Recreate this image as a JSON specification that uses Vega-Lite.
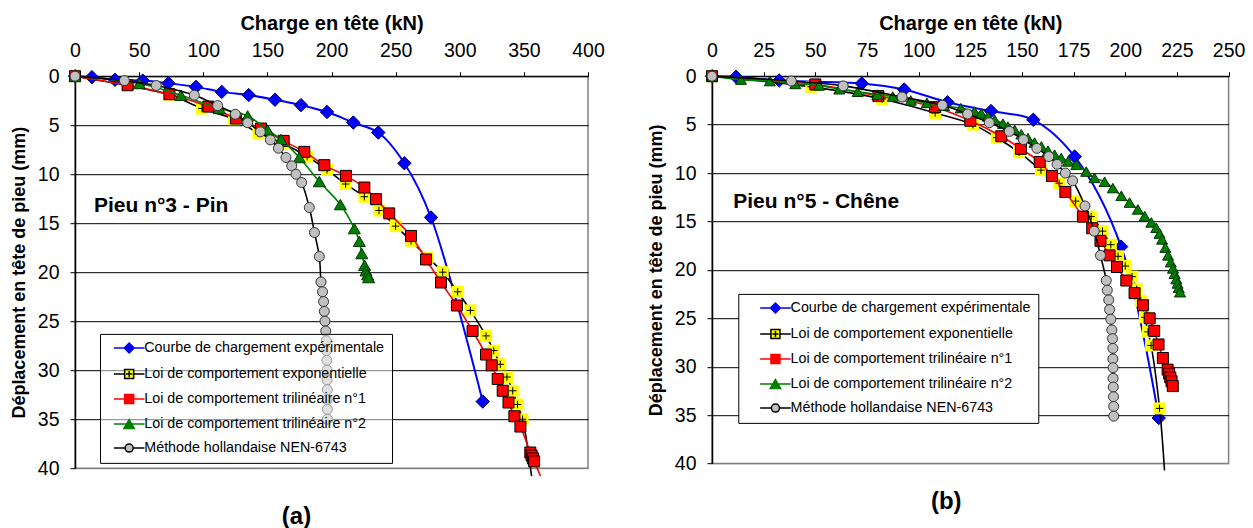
{
  "$schema": "https://vega.github.io/schema/vega-lite/v6.json",
  "padding": {"left": 9, "top": 12.2, "right": 5, "bottom": 0},
  "columns": 2,
  "align": "none",
  "spacing": 40,
  "resolve": {
    "scale": {"x": "independent", "y": "independent", "stroke": "independent", "fill": "independent", "shape": "independent"},
    "legend": {"stroke": "independent", "fill": "independent", "shape": "independent"}
  },
  "config": {
    "font": "Liberation Sans",
    "view": {"stroke": "#808080", "strokeWidth": 1.5},
    "axis": {"labelColor": "#000", "titleColor": "#000", "domainColor": "#000", "tickColor": "#000", "labelFontSize": 19.5, "titleFontSize": 18, "titleFontWeight": "bold", "labelFont": "Liberation Sans", "titleFont": "Liberation Sans", "labelFlush": false, "labelOverlap": false},
    "title": {"font": "Liberation Sans", "color": "#000"},
    "legend": {"labelFont": "Liberation Sans"}
  },
  "datasets": {
    "a": [
      {"s":"C","kN":0,"mm":0},{"s":"C","kN":13.2,"mm":0.1},{"s":"C","kN":31.2,"mm":0.37},{"s":"C","kN":52.8,"mm":0.45},{"s":"C","kN":72.8,"mm":0.72},{"s":"C","kN":94.3,"mm":1.09},{"s":"C","kN":114.4,"mm":1.6},{"s":"C","kN":135.4,"mm":1.92},{"s":"C","kN":155.9,"mm":2.4},{"s":"C","kN":176.2,"mm":2.95},{"s":"C","kN":196.5,"mm":3.65},{"s":"C","kN":217,"mm":4.73},{"s":"C","kN":236.5,"mm":5.75},{"s":"C","kN":256.8,"mm":8.88},{"s":"C","kN":277.6,"mm":14.42},{"s":"C","kN":317.9,"mm":33.2},
      {"s":"E","kN":0,"mm":0},{"s":"E","kN":41,"mm":0.95},{"s":"E","kN":73.8,"mm":1.9},{"s":"E","kN":99,"mm":3.3},{"s":"E","kN":124,"mm":4.39},{"s":"E","kN":143,"mm":5.8},{"s":"E","kN":162,"mm":6.84},{"s":"E","kN":181,"mm":8.2},{"s":"E","kN":196.5,"mm":9.56},{"s":"E","kN":211,"mm":11},{"s":"E","kN":225.6,"mm":12.3},{"s":"E","kN":237,"mm":13.7},{"s":"E","kN":250,"mm":15.3},{"s":"E","kN":262,"mm":16.8},{"s":"E","kN":275,"mm":18.5},{"s":"E","kN":286.7,"mm":20},{"s":"E","kN":298.4,"mm":22},{"s":"E","kN":308.3,"mm":23.9},{"s":"E","kN":320.5,"mm":26.5},{"s":"E","kN":326.5,"mm":28},{"s":"E","kN":331.6,"mm":29.4},{"s":"E","kN":336.8,"mm":30.7},{"s":"E","kN":341.3,"mm":32.1},{"s":"E","kN":345,"mm":33.5},{"s":"E","kN":349,"mm":35},{"s":"Ex","kN":356,"mm":40.8},
      {"s":"T1","kN":0,"mm":0},{"s":"T1","kN":41,"mm":0.92},{"s":"T1","kN":73.6,"mm":1.84},{"s":"T1","kN":104,"mm":3.1},{"s":"T1","kN":125.5,"mm":4.32},{"s":"T1","kN":145,"mm":5.34},{"s":"T1","kN":162.7,"mm":6.6},{"s":"T1","kN":178.8,"mm":7.72},{"s":"T1","kN":194.4,"mm":9.08},{"s":"T1","kN":211.3,"mm":10.17},{"s":"T1","kN":225.6,"mm":11.36},{"s":"T1","kN":234.7,"mm":12.55},{"s":"T1","kN":245,"mm":14},{"s":"T1","kN":262,"mm":16.3},{"s":"T1","kN":273.7,"mm":18.7},{"s":"T1","kN":285.4,"mm":21.05},{"s":"T1","kN":297.8,"mm":23.4},{"s":"T1","kN":310,"mm":26},{"s":"T1","kN":320.5,"mm":28.4},{"s":"T1","kN":324.9,"mm":29.5},{"s":"T1","kN":329.6,"mm":30.9},{"s":"T1","kN":333.5,"mm":32.1},{"s":"T1","kN":338,"mm":33.3},{"s":"T1","kN":342.6,"mm":34.7},{"s":"T1","kN":347.3,"mm":35.75},{"s":"T1","kN":355,"mm":38.4},{"s":"T1","kN":356,"mm":38.7},{"s":"T1","kN":357,"mm":39},{"s":"T1","kN":358,"mm":39.3},{"s":"T1x","kN":363,"mm":40.8},
      {"s":"T2","kN":0,"mm":0},{"s":"T2","kN":50.2,"mm":0.75},{"s":"T2","kN":82.6,"mm":1.95},{"s":"T2","kN":112.6,"mm":3.3},{"s":"T2","kN":134.6,"mm":4.05},{"s":"T2","kN":150.2,"mm":5.5},{"s":"T2","kN":160.6,"mm":6.45},{"s":"T2","kN":174.9,"mm":8.3},{"s":"T2","kN":190.5,"mm":10.75},{"s":"T2","kN":206.9,"mm":13.1},{"s":"T2","kN":217.8,"mm":15.55},{"s":"T2","kN":221.7,"mm":16.85},{"s":"T2","kN":223.6,"mm":18.1},{"s":"T2","kN":225.8,"mm":19.3},{"s":"T2","kN":226.9,"mm":19.85},{"s":"T2","kN":228.1,"mm":20.25},{"s":"T2","kN":228.9,"mm":20.55},
      {"s":"N","kN":0,"mm":0},{"s":"N","kN":38.5,"mm":0.45},{"s":"N","kN":63.3,"mm":0.95},{"s":"N","kN":93,"mm":1.94},{"s":"N","kN":111.2,"mm":3},{"s":"N","kN":125,"mm":3.88},{"s":"N","kN":134.6,"mm":4.75},{"s":"N","kN":144.5,"mm":5.68},{"s":"N","kN":152.3,"mm":6.5},{"s":"N","kN":158.6,"mm":7.35},{"s":"N","kN":164.5,"mm":8.3},{"s":"N","kN":169,"mm":9.15},{"s":"N","kN":172.3,"mm":10},{"s":"N","kN":176.7,"mm":10.85},{"s":"N","kN":182.7,"mm":13.4},{"s":"N","kN":186.7,"mm":15.95},{"s":"N","kN":190.5,"mm":18.4},{"s":"N","kN":191.8,"mm":21},{"s":"N","kN":193,"mm":22},{"s":"N","kN":193.8,"mm":23},{"s":"N","kN":194.4,"mm":24},{"s":"N","kN":194.9,"mm":25},{"s":"N","kN":195.5,"mm":26},{"s":"N","kN":196,"mm":27},{"s":"N","kN":196.2,"mm":28},{"s":"N","kN":196.4,"mm":29},{"s":"N","kN":196.5,"mm":30},{"s":"N","kN":196.6,"mm":31},{"s":"N","kN":196.7,"mm":32},{"s":"N","kN":196.7,"mm":33},{"s":"N","kN":196.8,"mm":34},{"s":"N","kN":196.8,"mm":35}
    ],
    "b": [
      {"s":"C","kN":0,"mm":0},{"s":"C","kN":11.6,"mm":0.05},{"s":"C","kN":32.5,"mm":0.45},{"s":"C","kN":72.5,"mm":0.75},{"s":"C","kN":93,"mm":1.38},{"s":"C","kN":114,"mm":2.69},{"s":"C","kN":135,"mm":3.6},{"s":"C","kN":155.5,"mm":4.5},{"s":"C","kN":175.5,"mm":8.3},{"s":"C","kN":198,"mm":17.6},{"s":"C","kN":216.2,"mm":35.3},
      {"s":"E","kN":0,"mm":0},{"s":"E","kN":48,"mm":1.1},{"s":"E","kN":82.4,"mm":2.35},{"s":"E","kN":108,"mm":3.8},{"s":"E","kN":126.3,"mm":5},{"s":"E","kN":137.8,"mm":6.35},{"s":"E","kN":148.6,"mm":7.85},{"s":"E","kN":159.2,"mm":9.7},{"s":"E","kN":168,"mm":11.05},{"s":"E","kN":176,"mm":12.9},{"s":"E","kN":183.5,"mm":14.5},{"s":"E","kN":189,"mm":16},{"s":"E","kN":193,"mm":17.4},{"s":"E","kN":196.5,"mm":18.6},{"s":"E","kN":200,"mm":19.6},{"s":"E","kN":203.3,"mm":20.7},{"s":"E","kN":205.5,"mm":22},{"s":"E","kN":207.5,"mm":23.2},{"s":"E","kN":209.5,"mm":24.9},{"s":"E","kN":211,"mm":26.4},{"s":"E","kN":212.5,"mm":27.8},{"s":"E","kN":216.6,"mm":34.3},{"s":"Ex","kN":219,"mm":40.7},
      {"s":"T1","kN":0,"mm":0},{"s":"T1","kN":50,"mm":0.85},{"s":"T1","kN":80.5,"mm":2.05},{"s":"T1","kN":108,"mm":3.2},{"s":"T1","kN":125,"mm":4.6},{"s":"T1","kN":140,"mm":6.2},{"s":"T1","kN":149.5,"mm":7.5},{"s":"T1","kN":158.6,"mm":8.85},{"s":"T1","kN":164.5,"mm":10.3},{"s":"T1","kN":171,"mm":11.95},{"s":"T1","kN":179.5,"mm":14.5},{"s":"T1","kN":184,"mm":15.7},{"s":"T1","kN":188,"mm":17},{"s":"T1","kN":192.4,"mm":18.5},{"s":"T1","kN":196,"mm":19.7},{"s":"T1","kN":200.5,"mm":21.1},{"s":"T1","kN":204.5,"mm":22.4},{"s":"T1","kN":208.6,"mm":23.65},{"s":"T1","kN":211.8,"mm":25},{"s":"T1","kN":214,"mm":26.3},{"s":"T1","kN":216.1,"mm":27.7},{"s":"T1","kN":218.2,"mm":29.1},{"s":"T1","kN":220.5,"mm":30.3},{"s":"T1","kN":221.2,"mm":30.7},{"s":"T1","kN":221.8,"mm":31.1},{"s":"T1","kN":222.4,"mm":31.5},{"s":"T1","kN":223,"mm":32},
      {"s":"T2","kN":0,"mm":0},{"s":"T2","kN":14,"mm":0.35},{"s":"T2","kN":28,"mm":0.5},{"s":"T2","kN":40.3,"mm":0.8},{"s":"T2","kN":51.8,"mm":0.95},{"s":"T2","kN":61.6,"mm":1.35},{"s":"T2","kN":70.5,"mm":1.6},{"s":"T2","kN":80,"mm":1.9},{"s":"T2","kN":87.5,"mm":2.1},{"s":"T2","kN":96.2,"mm":2.5},{"s":"T2","kN":104,"mm":2.75},{"s":"T2","kN":112.3,"mm":3.05},{"s":"T2","kN":120.4,"mm":3.3},{"s":"T2","kN":127,"mm":3.65},{"s":"T2","kN":130.3,"mm":3.85},{"s":"T2","kN":133.5,"mm":4.15},{"s":"T2","kN":136.8,"mm":4.5},{"s":"T2","kN":140.8,"mm":4.9},{"s":"T2","kN":143.2,"mm":5.2},{"s":"T2","kN":146.5,"mm":5.55},{"s":"T2","kN":149.7,"mm":6},{"s":"T2","kN":152.9,"mm":6.4},{"s":"T2","kN":156.1,"mm":6.85},{"s":"T2","kN":159.4,"mm":7.25},{"s":"T2","kN":162.6,"mm":7.7},{"s":"T2","kN":165.8,"mm":8.1},{"s":"T2","kN":169,"mm":8.45},{"s":"T2","kN":172.3,"mm":8.8},{"s":"T2","kN":176.3,"mm":9.15},{"s":"T2","kN":181.1,"mm":9.85},{"s":"T2","kN":185.1,"mm":10.5},{"s":"T2","kN":190,"mm":10.9},{"s":"T2","kN":194,"mm":11.55},{"s":"T2","kN":198.1,"mm":12.35},{"s":"T2","kN":202.1,"mm":13.05},{"s":"T2","kN":206.1,"mm":13.75},{"s":"T2","kN":209.4,"mm":14.45},{"s":"T2","kN":212.6,"mm":15.1},{"s":"T2","kN":215,"mm":15.65},{"s":"T2","kN":216.6,"mm":16.25},{"s":"T2","kN":217.8,"mm":16.85},{"s":"T2","kN":219.4,"mm":17.7},{"s":"T2","kN":220.7,"mm":18.5},{"s":"T2","kN":222,"mm":19.2},{"s":"T2","kN":223.1,"mm":19.85},{"s":"T2","kN":223.9,"mm":20.4},{"s":"T2","kN":224.7,"mm":20.95},{"s":"T2","kN":225.3,"mm":21.4},{"s":"T2","kN":225.9,"mm":21.85},{"s":"T2","kN":226.5,"mm":22.3},
      {"s":"N","kN":0,"mm":0},{"s":"N","kN":38.4,"mm":0.5},{"s":"N","kN":63.5,"mm":1},{"s":"N","kN":92,"mm":2.15},{"s":"N","kN":111.5,"mm":3},{"s":"N","kN":123.7,"mm":3.9},{"s":"N","kN":134.2,"mm":4.8},{"s":"N","kN":143.9,"mm":5.7},{"s":"N","kN":150.7,"mm":6.55},{"s":"N","kN":157.2,"mm":7.45},{"s":"N","kN":163,"mm":8.3},{"s":"N","kN":167,"mm":9.1},{"s":"N","kN":171,"mm":10},{"s":"N","kN":174.5,"mm":10.8},{"s":"N","kN":180.5,"mm":13.4},{"s":"N","kN":185,"mm":16},{"s":"N","kN":188,"mm":18.5},{"s":"N","kN":190.8,"mm":21.1},{"s":"N","kN":191.3,"mm":22.1},{"s":"N","kN":192,"mm":23.1},{"s":"N","kN":192.4,"mm":24.1},{"s":"N","kN":193,"mm":25.1},{"s":"N","kN":193.5,"mm":26.2},{"s":"N","kN":193.8,"mm":27.1},{"s":"N","kN":194,"mm":28.1},{"s":"N","kN":194,"mm":29.2},{"s":"N","kN":194.1,"mm":30.1},{"s":"N","kN":194.1,"mm":31.2},{"s":"N","kN":194.2,"mm":32.1},{"s":"N","kN":194.3,"mm":33.1},{"s":"N","kN":194.4,"mm":34.1},{"s":"N","kN":194.4,"mm":35.1}
    ]
  },
  "concat": [
    {
      "width": 513,
      "height": 392,
      "title": {"text": "(a)", "orient": "bottom", "anchor": "middle", "frame": "group", "fontSize": 24, "fontWeight": "bold", "dx": -35, "offset": 26},
      "encoding": {
        "x": {"field": "kN", "type": "quantitative", "scale": {"domain": [0, 400], "nice": false}, "axis": {"orient": "top", "title": "Charge en tête (kN)", "titleFontSize": 20, "values": [0, 50, 100, 150, 200, 250, 300, 350, 400], "grid": false, "tickSize": 4.5, "labelPadding": 11, "titlePadding": 7.1, "domainWidth": 1}},
        "y": {"field": "mm", "type": "quantitative", "scale": {"domain": [0, 40], "reverse": true, "nice": false}, "axis": {"title": "Déplacement en tête de pieu (mm)", "values": [0, 5, 10, 15, 20, 25, 30, 35, 40], "grid": true, "gridColor": {"condition": {"test": "datum.value === 40", "value": "#808080"}, "value": "#000000"}, "gridWidth": 1, "tickSize": 5, "labelPadding": 11, "titlePadding": 9, "domainWidth": 1.5}}
      },
      "layer": [
        {"data": {"name": "a"}, "transform": [{"filter": "datum.mm < 0"}], "mark": {"type": "point", "filled": true, "opacity": 1},
         "encoding": {
           "fill": {"field": "s", "type": "nominal", "scale": {"domain": ["C", "E", "T1", "T2", "N"], "range": ["#0000ff", "#ffff00", "#ff0000", "#008000", "#c0c0c0"]},
             "legend": {"orient": "none", "legendX": 25, "legendY": 257.7, "title": null, "labelExpr": "datum.value == 'C' ? 'Courbe de chargement expérimentale' : datum.value == 'E' ? 'Loi de comportement exponentielle' : datum.value == 'T1' ? 'Loi de comportement trilinéaire n°1' : datum.value == 'T2' ? 'Loi de comportement trilinéaire n°2' : 'Méthode hollandaise NEN-6743'", "labelFontSize": 14.3, "labelColor": "#000000", "labelLimit": 400, "symbolSize": 81, "symbolStrokeWidth": 1.5, "symbolOffset": 15, "labelOffset": 8, "rowPadding": 9, "padding": 7, "strokeColor": "#000000", "fillColor": "rgba(255,255,255,0.5)", "symbolOpacity": 1}},
           "stroke": {"field": "s", "type": "nominal", "scale": {"domain": ["C", "E", "T1", "T2", "N"], "range": ["#0000ff", "#000000", "#ff0000", "#008000", "#000000"]},
             "legend": {"orient": "none", "legendX": 25, "legendY": 257.7, "title": null, "labelExpr": "datum.value == 'C' ? 'Courbe de chargement expérimentale' : datum.value == 'E' ? 'Loi de comportement exponentielle' : datum.value == 'T1' ? 'Loi de comportement trilinéaire n°1' : datum.value == 'T2' ? 'Loi de comportement trilinéaire n°2' : 'Méthode hollandaise NEN-6743'", "labelFontSize": 14.3, "labelColor": "#000000", "labelLimit": 400, "symbolSize": 81, "symbolStrokeWidth": 1.5, "symbolOffset": 15, "labelOffset": 8, "rowPadding": 9, "padding": 7, "strokeColor": "#000000", "fillColor": "rgba(255,255,255,0.5)", "symbolOpacity": 1}},
           "shape": {"field": "s", "type": "nominal", "scale": {"domain": ["C", "E", "T1", "T2", "N"], "range": ["M-3.4,0H-1.1M1.1,0H3.4M-1.1,0L0,-1.1L1.1,0L0,1.1Z", "M-3.4,0H-1M1,0H3.4M-1,-1H1V1H-1ZM0,-0.7V0.7M-0.7,0H0.7", "M-3.4,0H-1M1,0H3.4M-1,-1H1V1H-1Z", "M-3.4,0H-0.58M0.58,0H3.4M0,-1L1.15,1H-1.15Z", "M-3.4,0H-0.9M0.9,0H3.4M-0.9,0A0.9,0.9,0,1,1,0.9,0A0.9,0.9,0,1,1,-0.9,0Z"]},
             "legend": {"orient": "none", "legendX": 25, "legendY": 257.7, "title": null, "labelExpr": "datum.value == 'C' ? 'Courbe de chargement expérimentale' : datum.value == 'E' ? 'Loi de comportement exponentielle' : datum.value == 'T1' ? 'Loi de comportement trilinéaire n°1' : datum.value == 'T2' ? 'Loi de comportement trilinéaire n°2' : 'Méthode hollandaise NEN-6743'", "labelFontSize": 14.3, "labelColor": "#000000", "labelLimit": 400, "symbolSize": 81, "symbolStrokeWidth": 1.5, "symbolOffset": 15, "labelOffset": 8, "rowPadding": 9, "padding": 7, "strokeColor": "#000000", "fillColor": "rgba(255,255,255,0.5)", "symbolOpacity": 1}}
         }},
        {"data": {"name": "a"}, "transform": [{"filter": "datum.s == 'C'"}], "mark": {"type": "line", "color": "#0000ff", "strokeWidth": 2, "interpolate": "catmull-rom"}, "encoding": {"order": {"field": "mm", "type": "quantitative"}}},
        {"data": {"name": "a"}, "transform": [{"filter": "datum.s == 'C'"}], "mark": {"type": "point", "shape": "diamond", "size": 180, "filled": true, "fill": "#0000ff", "stroke": "#000066", "strokeWidth": 1, "opacity": 1}},
        {"data": {"name": "a"}, "transform": [{"filter": "datum.s == 'E' || datum.s == 'Ex'"}], "mark": {"type": "line", "color": "#000000", "strokeWidth": 1.6, "interpolate": "catmull-rom"}, "encoding": {"order": {"field": "mm", "type": "quantitative"}}},
        {"data": {"name": "a"}, "transform": [{"filter": "datum.s == 'E'"}], "mark": {"type": "point", "shape": "square", "size": 144, "filled": true, "fill": "#ffff00", "strokeWidth": 0, "opacity": 1}},
        {"data": {"name": "a"}, "transform": [{"filter": "datum.s == 'E'"}], "mark": {"type": "point", "shape": "M0,-1V1M-1,0H1", "size": 56, "filled": false, "stroke": "#000000", "strokeWidth": 1, "opacity": 1}},
        {"data": {"name": "a"}, "transform": [{"filter": "datum.s == 'T1' || datum.s == 'T1x'"}], "mark": {"type": "line", "color": "#ff0000", "strokeWidth": 1.6, "interpolate": "catmull-rom"}, "encoding": {"order": {"field": "mm", "type": "quantitative"}}},
        {"data": {"name": "a"}, "transform": [{"filter": "datum.s == 'T1'"}], "mark": {"type": "point", "shape": "square", "size": 121, "filled": true, "fill": "#ff0000", "stroke": "#000000", "strokeWidth": 1, "opacity": 1}},
        {"data": {"name": "a"}, "transform": [{"filter": "datum.s == 'T2'"}], "mark": {"type": "line", "color": "#008000", "strokeWidth": 1.6, "interpolate": "catmull-rom"}, "encoding": {"order": {"field": "mm", "type": "quantitative"}}},
        {"data": {"name": "a"}, "transform": [{"filter": "datum.s == 'T2'"}], "mark": {"type": "point", "shape": "triangle-up", "size": 144, "filled": true, "fill": "#008000", "stroke": "#003300", "strokeWidth": 1, "opacity": 1}},
        {"data": {"name": "a"}, "transform": [{"filter": "datum.s == 'N'"}], "mark": {"type": "line", "color": "#000000", "strokeWidth": 1.6, "interpolate": "catmull-rom"}, "encoding": {"order": {"field": "mm", "type": "quantitative"}}},
        {"data": {"name": "a"}, "transform": [{"filter": "datum.s == 'N'"}], "mark": {"type": "point", "shape": "circle", "size": 100, "filled": true, "fill": "#c0c0c0", "stroke": "#333333", "strokeWidth": 1, "opacity": 1}},
        {"data": {"values": [{"kN": 14.8, "mm": 13.2, "t": "Pieu n°3 - Pin"}]}, "mark": {"type": "text", "align": "left", "baseline": "middle", "fontSize": 21, "fontWeight": "bold", "color": "#000000"}, "encoding": {"text": {"field": "t", "type": "nominal"}}}
      ]
    },
    {
      "width": 516.6,
      "height": 387.4,
      "title": {"text": "(b)", "orient": "bottom", "anchor": "middle", "frame": "group", "fontSize": 24, "fontWeight": "bold", "dx": -24, "offset": 16},
      "encoding": {
        "x": {"field": "kN", "type": "quantitative", "scale": {"domain": [0, 250], "nice": false}, "axis": {"orient": "top", "title": "Charge en tête (kN)", "titleFontSize": 20, "values": [0, 25, 50, 75, 100, 125, 150, 175, 200, 225, 250], "grid": false, "tickSize": 4.5, "labelPadding": 11, "titlePadding": 7.1, "domainWidth": 1}},
        "y": {"field": "mm", "type": "quantitative", "scale": {"domain": [0, 40], "reverse": true, "nice": false}, "axis": {"title": "Déplacement en tête de pieu (mm)", "values": [0, 5, 10, 15, 20, 25, 30, 35, 40], "grid": true, "gridColor": {"condition": {"test": "datum.value === 40", "value": "#808080"}, "value": "#000000"}, "gridWidth": 1, "tickSize": 5, "labelPadding": 11, "titlePadding": 9, "domainWidth": 1.5}}
      },
      "layer": [
        {"data": {"name": "b"}, "transform": [{"filter": "datum.mm < 0"}], "mark": {"type": "point", "filled": true, "opacity": 1},
         "encoding": {
           "fill": {"field": "s", "type": "nominal", "scale": {"domain": ["C", "E", "T1", "T2", "N"], "range": ["#0000ff", "#ffff00", "#ff0000", "#008000", "#c0c0c0"]},
             "legend": {"orient": "none", "legendX": 26.3, "legendY": 217.7, "title": null, "labelExpr": "datum.value == 'C' ? 'Courbe de chargement expérimentale' : datum.value == 'E' ? 'Loi de comportement exponentielle' : datum.value == 'T1' ? 'Loi de comportement trilinéaire n°1' : datum.value == 'T2' ? 'Loi de comportement trilinéaire n°2' : 'Méthode hollandaise NEN-6743'", "labelFontSize": 14.3, "labelColor": "#000000", "labelLimit": 400, "symbolSize": 81, "symbolStrokeWidth": 1.5, "symbolOffset": 23, "labelOffset": 8, "rowPadding": 9, "padding": 7, "strokeColor": "#000000", "fillColor": "#ffffff", "symbolOpacity": 1}},
           "stroke": {"field": "s", "type": "nominal", "scale": {"domain": ["C", "E", "T1", "T2", "N"], "range": ["#0000ff", "#000000", "#ff0000", "#008000", "#000000"]},
             "legend": {"orient": "none", "legendX": 26.3, "legendY": 217.7, "title": null, "labelExpr": "datum.value == 'C' ? 'Courbe de chargement expérimentale' : datum.value == 'E' ? 'Loi de comportement exponentielle' : datum.value == 'T1' ? 'Loi de comportement trilinéaire n°1' : datum.value == 'T2' ? 'Loi de comportement trilinéaire n°2' : 'Méthode hollandaise NEN-6743'", "labelFontSize": 14.3, "labelColor": "#000000", "labelLimit": 400, "symbolSize": 81, "symbolStrokeWidth": 1.5, "symbolOffset": 23, "labelOffset": 8, "rowPadding": 9, "padding": 7, "strokeColor": "#000000", "fillColor": "#ffffff", "symbolOpacity": 1}},
           "shape": {"field": "s", "type": "nominal", "scale": {"domain": ["C", "E", "T1", "T2", "N"], "range": ["M-3.4,0H-1.1M1.1,0H3.4M-1.1,0L0,-1.1L1.1,0L0,1.1Z", "M-3.4,0H-1M1,0H3.4M-1,-1H1V1H-1ZM0,-0.7V0.7M-0.7,0H0.7", "M-3.4,0H-1M1,0H3.4M-1,-1H1V1H-1Z", "M-3.4,0H-0.58M0.58,0H3.4M0,-1L1.15,1H-1.15Z", "M-3.4,0H-0.9M0.9,0H3.4M-0.9,0A0.9,0.9,0,1,1,0.9,0A0.9,0.9,0,1,1,-0.9,0Z"]},
             "legend": {"orient": "none", "legendX": 26.3, "legendY": 217.7, "title": null, "labelExpr": "datum.value == 'C' ? 'Courbe de chargement expérimentale' : datum.value == 'E' ? 'Loi de comportement exponentielle' : datum.value == 'T1' ? 'Loi de comportement trilinéaire n°1' : datum.value == 'T2' ? 'Loi de comportement trilinéaire n°2' : 'Méthode hollandaise NEN-6743'", "labelFontSize": 14.3, "labelColor": "#000000", "labelLimit": 400, "symbolSize": 81, "symbolStrokeWidth": 1.5, "symbolOffset": 23, "labelOffset": 8, "rowPadding": 9, "padding": 7, "strokeColor": "#000000", "fillColor": "#ffffff", "symbolOpacity": 1}}
         }},
        {"data": {"name": "b"}, "transform": [{"filter": "datum.s == 'C'"}], "mark": {"type": "line", "color": "#0000ff", "strokeWidth": 2, "interpolate": "catmull-rom"}, "encoding": {"order": {"field": "mm", "type": "quantitative"}}},
        {"data": {"name": "b"}, "transform": [{"filter": "datum.s == 'C'"}], "mark": {"type": "point", "shape": "diamond", "size": 180, "filled": true, "fill": "#0000ff", "stroke": "#000066", "strokeWidth": 1, "opacity": 1}},
        {"data": {"name": "b"}, "transform": [{"filter": "datum.s == 'E' || datum.s == 'Ex'"}], "mark": {"type": "line", "color": "#000000", "strokeWidth": 1.6, "interpolate": "catmull-rom"}, "encoding": {"order": {"field": "mm", "type": "quantitative"}}},
        {"data": {"name": "b"}, "transform": [{"filter": "datum.s == 'E'"}], "mark": {"type": "point", "shape": "square", "size": 144, "filled": true, "fill": "#ffff00", "strokeWidth": 0, "opacity": 1}},
        {"data": {"name": "b"}, "transform": [{"filter": "datum.s == 'E'"}], "mark": {"type": "point", "shape": "M0,-1V1M-1,0H1", "size": 56, "filled": false, "stroke": "#000000", "strokeWidth": 1, "opacity": 1}},
        {"data": {"name": "b"}, "transform": [{"filter": "datum.s == 'T1'"}], "mark": {"type": "line", "color": "#ff0000", "strokeWidth": 1.6, "interpolate": "catmull-rom"}, "encoding": {"order": {"field": "mm", "type": "quantitative"}}},
        {"data": {"name": "b"}, "transform": [{"filter": "datum.s == 'T1'"}], "mark": {"type": "point", "shape": "square", "size": 121, "filled": true, "fill": "#ff0000", "stroke": "#000000", "strokeWidth": 1, "opacity": 1}},
        {"data": {"name": "b"}, "transform": [{"filter": "datum.s == 'T2'"}], "mark": {"type": "line", "color": "#008000", "strokeWidth": 1.6, "interpolate": "catmull-rom"}, "encoding": {"order": {"field": "mm", "type": "quantitative"}}},
        {"data": {"name": "b"}, "transform": [{"filter": "datum.s == 'T2'"}], "mark": {"type": "point", "shape": "triangle-up", "size": 121, "filled": true, "fill": "#008000", "stroke": "#003300", "strokeWidth": 1, "opacity": 1}},
        {"data": {"name": "b"}, "transform": [{"filter": "datum.s == 'N'"}], "mark": {"type": "line", "color": "#000000", "strokeWidth": 1.6, "interpolate": "catmull-rom"}, "encoding": {"order": {"field": "mm", "type": "quantitative"}}},
        {"data": {"name": "b"}, "transform": [{"filter": "datum.s == 'N'"}], "mark": {"type": "point", "shape": "circle", "size": 100, "filled": true, "fill": "#c0c0c0", "stroke": "#333333", "strokeWidth": 1, "opacity": 1}},
        {"data": {"values": [{"kN": 10.3, "mm": 12.95, "t": "Pieu n°5 - Chêne"}]}, "mark": {"type": "text", "align": "left", "baseline": "middle", "fontSize": 21, "fontWeight": "bold", "color": "#000000"}, "encoding": {"text": {"field": "t", "type": "nominal"}}}
      ]
    }
  ]
}
